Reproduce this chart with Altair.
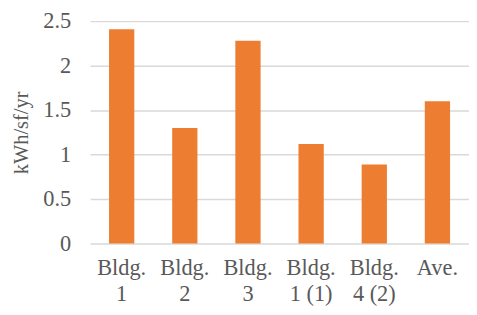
import altair as alt
import pandas as pd

categories = ["Bldg.|1", "Bldg.|2", "Bldg.|3", "Bldg.|1 (1)", "Bldg.|4 (2)", "Ave."]
values = [2.41, 1.30, 2.28, 1.12, 0.89, 1.60]
y_ticks = [0, 0.5, 1, 1.5, 2, 2.5]

df = pd.DataFrame({"cat": categories, "val": values})

FONT = "Liberation Serif"
GRAY = "#595959"

chart = alt.Chart(df).mark_bar(color="#ED7D31").encode(
    x=alt.X("cat:N", sort=categories,
            scale=alt.Scale(paddingInner=0.6, paddingOuter=0.3),
            axis=alt.Axis(title=None, labelAngle=0, domain=False, ticks=False,
                          labelExpr="split(datum.label, '|')",
                          labelFont=FONT, labelFontSize=23, labelColor=GRAY,
                          labelLineHeight=27, labelPadding=14,
                          labelBaseline="top")),
    y=alt.Y("val:Q", scale=alt.Scale(domain=[0, 2.5], nice=False),
            axis=alt.Axis(title="kWh/sf/yr", values=y_ticks, domain=False, ticks=False,
                          labelFont=FONT, labelFontSize=23, labelColor=GRAY,
                          labelPadding=20, titleFont=FONT, titleFontSize=21,
                          titleFontWeight="normal", titleColor=GRAY, titlePadding=12,
                          gridColor="#D9D9D9", gridWidth=1.5,
                          labelExpr="format(datum.value, '')")),
).properties(
    width=390, height=229,
    autosize=alt.AutoSizeParams(type="none"),
    padding={"left": 84.5, "top": 9, "right": 0, "bottom": 70},
).configure_view(stroke=None)

chart.save("out.html", embed_options={"renderer": "svg", "actions": False})
